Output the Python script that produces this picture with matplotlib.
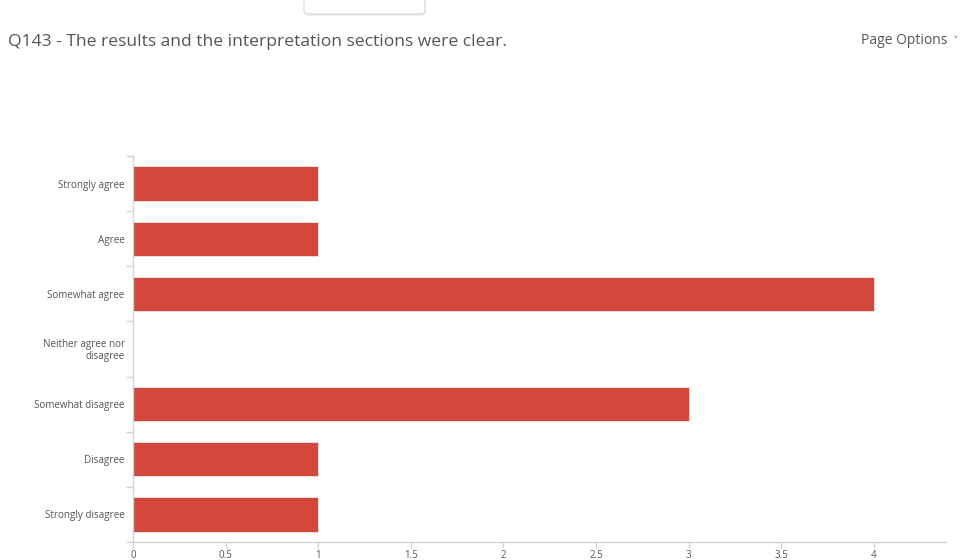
import matplotlib
matplotlib.use("Agg")
import matplotlib.pyplot as plt
from matplotlib.patches import FancyBboxPatch

categories = ["Strongly agree", "Agree", "Somewhat agree", "Neither agree nor\ndisagree",
              "Somewhat disagree", "Disagree", "Strongly disagree"]
counts = [1, 1, 4, 0, 3, 1, 1]
xticks = [0, 0.5, 1, 1.5, 2, 2.5, 3, 3.5, 4]
xtick_labels = ["0", "0.5", "1", "1.5", "2", "2.5", "3", "3.5", "4"]

plt.rcParams['font.family'] = ['Open Sans', 'DejaVu Sans']

fig = plt.figure(figsize=(9.6, 5.6), dpi=100)
ax = fig.add_axes([133/960, 18/560, (946-133)/960, (542-156)/560])

n = len(categories)
ypos = list(range(n))
ax.barh(ypos, counts, height=0.62, color="#d4483c", edgecolor="#e8e8e8", linewidth=0.6, zorder=2)
ax.set_ylim(n - 0.5, -0.5)
ax.set_xlim(0, 4.39)

ax.set_yticks([i - 0.5 for i in range(n + 1)], minor=False)
ax.set_yticklabels([])
ax.set_yticks(ypos, minor=True)
ax.set_yticklabels(categories, minor=True)
ax.tick_params(axis='y', which='major', length=5, color="#d0d4d8", width=1)
ax.tick_params(axis='y', which='minor', length=0, pad=6, labelsize=7.1, labelcolor="#555555")
for lbl in ax.get_yticklabels(minor=True):
    lbl.set_horizontalalignment('right')
    lbl.set_linespacing(1.0)

ax.set_xticks(xticks)
ax.set_xticklabels(xtick_labels)
ax.tick_params(axis='x', length=4, color="#d0d4d8", width=1, labelsize=7, labelcolor="#555555", pad=2)

for s in ["top", "right"]:
    ax.spines[s].set_visible(False)
for s in ["left", "bottom"]:
    ax.spines[s].set_color("#d0d4d8")
    ax.spines[s].set_linewidth(1)

fig.text(8/960, 1 - 42/560, "Q143 - The results and the interpretation sections were clear.",
         fontsize=12.6, color="#555555", va="center", ha="left")
fig.text(861/960, 1 - 41/560, "Page Options", fontsize=10, color="#555555", va="center", ha="left")
fig.text(953/960, 1 - 42/560, "\u02c5", fontsize=8, color="#777777", va="center", ha="left")

box = FancyBboxPatch((304/960, 1 - 14/560), 121/960, 20/560,
                     boxstyle="round,pad=0,rounding_size=0.005",
                     transform=fig.transFigure, facecolor="white", edgecolor="#dddddd",
                     linewidth=1)
shadow = FancyBboxPatch((305/960, 1 - 16/560), 121/960, 20/560,
                        boxstyle="round,pad=0,rounding_size=0.005",
                        transform=fig.transFigure, facecolor="#eeeeee", edgecolor="none")
fig.patches.extend([shadow, box])

fig.savefig("out.png", dpi=100)
